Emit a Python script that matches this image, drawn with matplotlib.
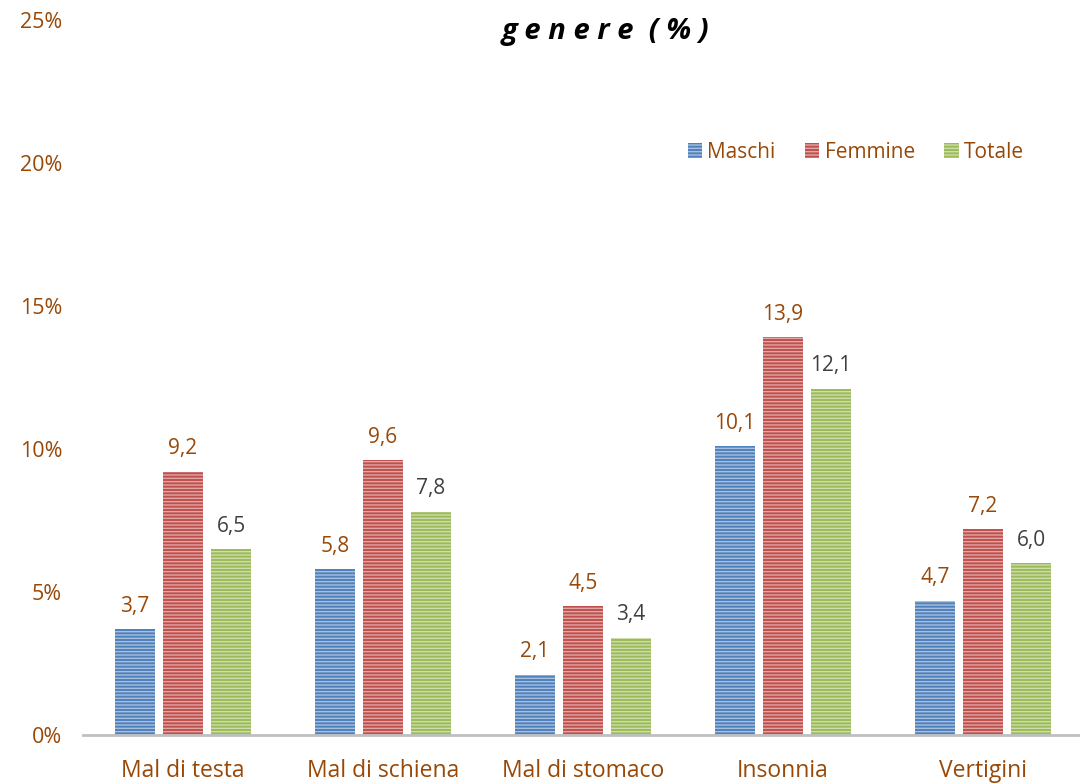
import matplotlib
matplotlib.use("Agg")
import matplotlib.pyplot as plt
import numpy as np

categories = ["Mal di testa", "Mal di schiena", "Mal di stomaco", "Insonnia", "Vertigini"]
series_names = ["Maschi", "Femmine", "Totale"]
maschi = [3.7, 5.8, 2.1, 10.1, 4.7]
femmine = [9.2, 9.6, 4.5, 13.9, 7.2]
totale = [6.5, 7.8, 3.4, 12.1, 6.0]
yticks = [0, 5, 10, 15, 20, 25]
title_text = "g e n e r e  ( % )"

colors = ["#4F81BD", "#C0504D", "#9BBB59"]
label_colors = ["#984807", "#984807", "#404040"]
brown = "#984807"

plt.rcParams['font.family'] = ['Open Sans', 'DejaVu Sans']
plt.rcParams['hatch.linewidth'] = 1.0

fig = plt.figure(figsize=(10.8, 7.84), dpi=100)
ax = fig.add_axes([83/1080, 1-735/784, 1000/1080, (735-20)/784])

x = np.arange(len(categories))
step = 0.24
width = 0.2
for i, (vals, name) in enumerate(zip([maschi, femmine, totale], series_names)):
    pos = x + (i - 1) * step
    bars = ax.bar(pos, vals, width, color=colors[i], edgecolor=(1, 1, 1, 0.5),
                  linewidth=0, hatch="-----", label=name, zorder=2)
    for b, v in zip(bars, vals):
        ax.annotate(f"{v:.1f}".replace(".", ","), (b.get_x() + b.get_width()/2, v),
                    xytext=(0, 9), textcoords="offset points", ha="center", va="bottom",
                    fontsize=15, color=label_colors[i])

ax.set_xlim(-0.5, 4.5)
ax.set_ylim(0, 25)
ax.set_yticks(yticks)
ax.set_yticklabels([f"{t}%" for t in yticks])
ax.set_xticks(x)
ax.set_xticklabels(categories)
ax.tick_params(axis="y", length=0, pad=15, labelsize=15.5, labelcolor=brown)
ax.tick_params(axis="x", length=0, pad=17, labelsize=16.5, labelcolor=brown)
for s in ["left", "right", "top"]:
    ax.spines[s].set_visible(False)
ax.spines["bottom"].set_color("#BFBFBF")
ax.spines["bottom"].set_linewidth(2)
ax.spines["bottom"].set_zorder(3)

leg = ax.legend(loc="center right", bbox_to_anchor=(1024/1000 - 83/1000, (735-152)/715), ncol=3,
                frameon=False, fontsize=15, handlelength=0.7, handleheight=0.7, handletextpad=0.25,
                columnspacing=1.4, borderaxespad=0, borderpad=0)
for t in leg.get_texts():
    t.set_color(brown)

fig.text(605/1080, 1-32/784, title_text, ha="center", va="center", fontsize=21,
         fontweight="bold", fontstyle="italic", color="black")

fig.savefig("out.png", dpi=100)
